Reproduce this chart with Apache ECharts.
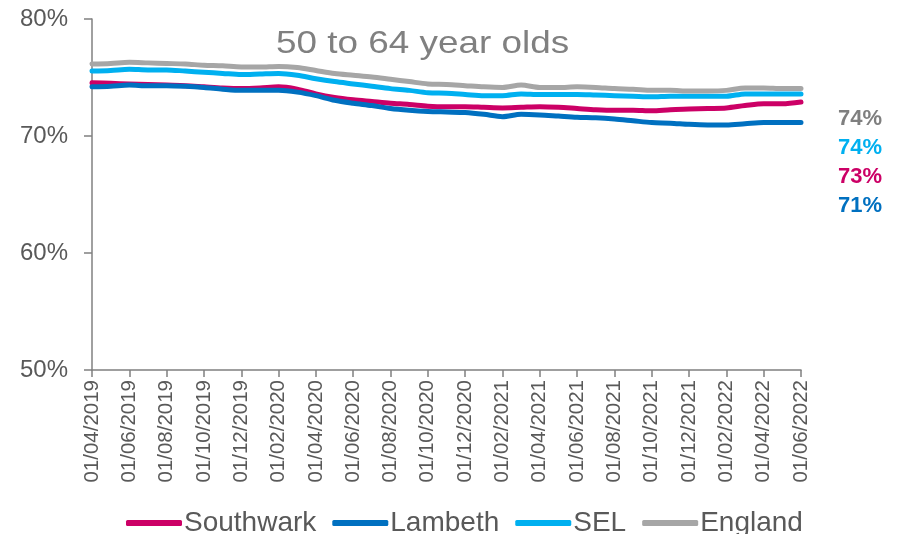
<!DOCTYPE html>
<html>
<head>
<meta charset="utf-8">
<script src="https://cdn.jsdelivr.net/npm/echarts@6/dist/echarts.min.js"></script>
<style>html,body{margin:0;padding:0;background:#fff}#c{width:897px;height:534px}</style>
</head>
<body>
<div id="c"></div>
<script>
const months = ["01/04/2019","01/05/2019","01/06/2019","01/07/2019","01/08/2019","01/09/2019","01/10/2019","01/11/2019","01/12/2019","01/01/2020","01/02/2020","01/03/2020","01/04/2020","01/05/2020","01/06/2020","01/07/2020","01/08/2020","01/09/2020","01/10/2020","01/11/2020","01/12/2020","01/01/2021","01/02/2021","01/03/2021","01/04/2021","01/05/2021","01/06/2021","01/07/2021","01/08/2021","01/09/2021","01/10/2021","01/11/2021","01/12/2021","01/01/2022","01/02/2022","01/03/2022","01/04/2022","01/05/2022","01/06/2022"];
const southwark = [74.55,74.5,74.45,74.4,74.35,74.3,74.2,74.1,74.05,74.1,74.2,74.0,73.6,73.3,73.1,72.95,72.8,72.7,72.55,72.5,72.5,72.45,72.4,72.45,72.5,72.45,72.35,72.25,72.2,72.2,72.15,72.25,72.3,72.35,72.4,72.6,72.75,72.75,72.9];
const lambeth = [74.2,74.25,74.35,74.3,74.3,74.25,74.15,74.0,73.9,73.9,73.9,73.75,73.45,73.05,72.8,72.6,72.35,72.2,72.1,72.05,72.0,71.85,71.65,71.85,71.8,71.7,71.6,71.55,71.45,71.3,71.15,71.1,71.0,70.95,70.95,71.05,71.15,71.15,71.15];
const sel = [75.55,75.6,75.7,75.65,75.65,75.55,75.45,75.35,75.25,75.3,75.35,75.2,74.9,74.65,74.45,74.25,74.05,73.9,73.7,73.65,73.55,73.45,73.45,73.6,73.55,73.55,73.55,73.5,73.45,73.4,73.35,73.4,73.4,73.4,73.4,73.6,73.6,73.6,73.6];
const england = [76.15,76.2,76.3,76.25,76.2,76.15,76.05,76.0,75.9,75.9,75.95,75.85,75.6,75.35,75.2,75.05,74.85,74.65,74.45,74.4,74.3,74.2,74.15,74.35,74.15,74.15,74.2,74.15,74.05,74.0,73.9,73.9,73.85,73.85,73.9,74.1,74.1,74.05,74.05];
const yTicks = [50, 60, 70, 80];
const titleText = '50 to 64 year olds';
const seriesNames = ["Southwark","Lambeth","SEL","England"];
const seriesData = [southwark, lambeth, sel, england];
const colors = ["#CC0066","#0070C0","#00B0F0","#A6A6A6"];
const endLabelColors = ["#CC0066","#0070C0","#00B0F0","#7F7F7F"];
const endLabelOrder = [3, 2, 0, 1];
const font = "'Liberation Sans', Arial, sans-serif";

const chart = echarts.init(document.getElementById('c'));
const series = seriesNames.map((n, i) => ({
  name: n, type: 'line', data: seriesData[i], symbol: 'none', smooth: 0.3,
  lineStyle: { width: 5, color: colors[i], cap: 'round', join: 'round' },
  itemStyle: { color: colors[i] }, z: 2
}));
const endLabels = endLabelOrder.map((si, k) => ({
  type: 'text', x: 838, y: 118.5 + k * 29,
  style: { text: Math.round(seriesData[si][seriesData[si].length - 1]) + '%', fill: endLabelColors[si],
    font: "bold 22px " + font, textVerticalAlign: 'middle' }
}));
const titleEl = {
  type: 'text', x: 276, y: 29, scaleX: 1.25, scaleY: 1.05,
  style: { text: titleText, fill: '#808080', font: "29.5px " + font, textVerticalAlign: 'top' }
};
chart.setOption({
  animation: false,
  grid: { left: 92, right: 96, top: 19, bottom: 164, containLabel: false },
  legend: {
    top: 504, left: 121, itemGap: 16, itemWidth: 56, itemHeight: 6,
    icon: 'roundRect',
    textStyle: { fontFamily: font, fontSize: 28, color: '#595959', padding: [0,0,0,-3] },
    data: seriesNames
  },
  xAxis: {
    type: 'category', data: months, boundaryGap: false,
    axisLine: { lineStyle: { color: '#808080', width: 1.5 } },
    axisTick: { interval: 1, length: 7, lineStyle: { color: '#808080', width: 1.5 } },
    axisLabel: { interval: 1, rotate: 90, fontFamily: font, fontSize: 20.5, color: '#595959', margin: 10 }
  },
  yAxis: {
    type: 'value', min: yTicks[0], max: yTicks[yTicks.length - 1], interval: 10,
    splitLine: { show: false },
    axisLine: { show: true, lineStyle: { color: '#808080', width: 1.5 } },
    axisTick: { show: true, length: 8, lineStyle: { color: '#808080', width: 1.5 } },
    axisLabel: { formatter: v => v + '%', fontFamily: font, fontSize: 24, color: '#595959', margin: 24 }
  },
  series: series,
  graphic: [titleEl].concat(endLabels)
});
</script>
</body>
</html>
